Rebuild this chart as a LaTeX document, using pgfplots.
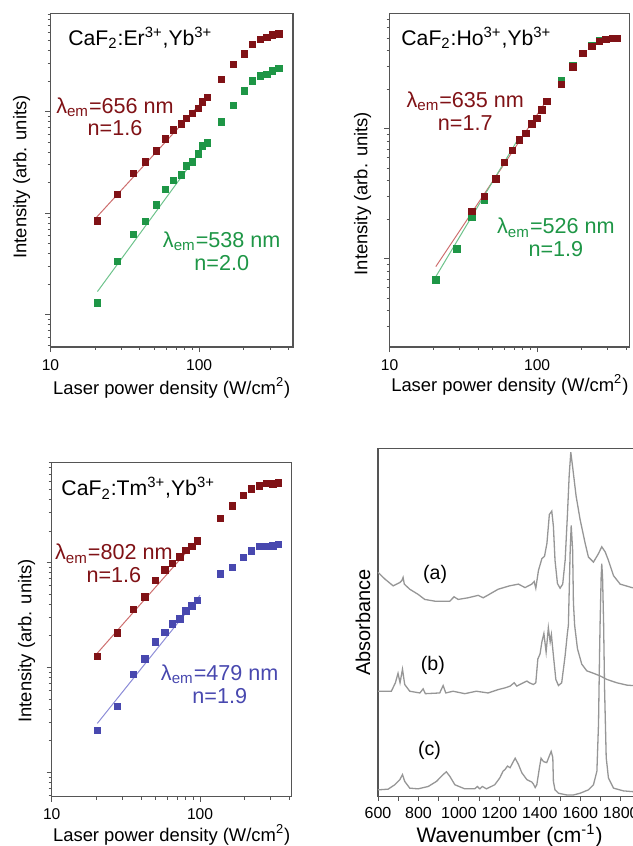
\documentclass[border=0pt]{standalone}
\usepackage{fontspec}
\setmainfont{Liberation Sans}
\usepackage{pgfplots}
\pgfplotsset{compat=1.18}

\definecolor{dred}{RGB}{128,18,22}
\definecolor{dgreen}{RGB}{30,150,70}
\definecolor{dblue}{RGB}{72,72,175}
\definecolor{lred}{RGB}{205,110,110}
\definecolor{lgreen}{RGB}{110,195,140}
\definecolor{lblue}{RGB}{140,140,215}
\definecolor{axgray}{RGB}{85,85,85}
\definecolor{spec}{RGB}{150,150,150}

\newcommand{\ttl}{\fontsize{10.6}{12}\selectfont}
\newcommand{\lam}{\fontsize{10.8}{11.4}\selectfont}
\newcommand{\lbl}{\fontsize{9.2}{11}\selectfont}
\newcommand{\tkl}{\fontsize{7.8}{9}\selectfont}
\newcommand{\lem}{λ\textsubscript{em}}

\begin{document}
\begin{tikzpicture}
\path[use as bounding box] (0,0) rectangle (316pt,423pt);

% ---- Er ----
\begin{axis}[at={(25.25pt,249.5pt)}, anchor=south west, scale only axis,
  width=121.25pt, height=166.75pt,
  xmode=log, ymode=log,
  xmin=10, xmax=428, ymin=0.484, ymax=925,
  axis line style={axgray, line width=0.6pt},
  tick style={axgray, line width=0.5pt},
  tick pos=left, tick align=outside,
  major tick length=2.6pt, minor tick length=1.5pt,
  xtick={10,100}, xticklabels={10,100},
  minor xtick={20,30,40,50,60,70,80,90,200,300,400},
  yticklabels={},
  xticklabel style={font=\tkl},
  xlabel={Laser power density (W/cm\textsuperscript{2})},
  ylabel={Intensity (arb. units)},
  xlabel style={font=\lbl, at={(axis description cs:0.5,-0.123)}, anchor=center},
  ylabel style={font=\lbl, at={(axis description cs:-0.119,0.51)}, anchor=center},
  clip=false]
\addplot[lred, line width=0.5pt, no marks] coordinates {(20.4,9.14) (116,147)};
\addplot[lgreen, line width=0.5pt, no marks] coordinates {(20.7,1.70) (115,52.2)};
\addplot[only marks, mark=square*, mark size=1.6pt, dred] coordinates {
(20.7,8.41) (28.2,15.4) (36.1,24.7) (43.5,32.0) (51.4,41.0) (59.4,53.8) (67.2,66.1)
(76.0,75.7) (82.2,85.9) (90.2,96.4) (98.4,108) (105.2,125) (113.2,138) (140.6,208)
(170.2,290) (200.8,372) (228.5,459) (257.2,514) (285.2,538) (311.3,571) (345,581)};
\addplot[only marks, mark=square*, mark size=1.6pt, dgreen] coordinates {
(20.7,1.31) (28.2,3.35) (36.1,6.21) (43.5,8.28) (51.4,12.1) (59.4,17.2) (67.2,21.1)
(76.0,23.8) (82.2,29.2) (90.2,32.2) (98.4,38.4) (105.2,45.9) (113.2,49.5) (140.6,79.1)
(170.2,116) (200.8,160) (228.5,200) (257.2,224) (285.2,234) (311.3,253) (345,265)};
\node[anchor=west, inner sep=0pt, font=\ttl] at (rel axis cs:0.072,0.927)
  {CaF\textsubscript{2}:Er\textsuperscript{3+},Yb\textsuperscript{3+}};
\node[align=center, text=dred, font=\lam] at (rel axis cs:0.266,0.69)
  {\lem=656 nm\\n=1.6};
\node[align=center, text=dgreen, font=\lam] at (rel axis cs:0.706,0.288)
  {\lem=538 nm\\n=2.0};
\end{axis}

% ---- Ho ----
\begin{axis}[at={(194.75pt,249.5pt)}, anchor=south west, scale only axis,
  width=119.9pt, height=166.75pt,
  xmode=log, ymode=log,
  xmin=10, xmax=421, ymin=2.10, ymax=773,
  axis line style={axgray, line width=0.6pt},
  tick style={axgray, line width=0.5pt},
  tick pos=left, tick align=outside,
  major tick length=2.6pt, minor tick length=1.5pt,
  xtick={10,100}, xticklabels={10,100},
  minor xtick={20,30,40,50,60,70,80,90,200,300,400},
  yticklabels={},
  xticklabel style={font=\tkl},
  xlabel={Laser power density (W/cm\textsuperscript{2})},
  ylabel={Intensity (arb. units)},
  xlabel style={font=\lbl, at={(axis description cs:0.502,-0.114)}, anchor=center},
  ylabel style={font=\lbl, at={(axis description cs:-0.112,0.46)}, anchor=center},
  clip=false]
\addplot[lred, line width=0.5pt, no marks] coordinates {(20.6,8.73) (116,166)};
\addplot[lgreen, line width=0.5pt, no marks] coordinates {(20.6,7.31) (75,85)};
\addplot[only marks, mark=square*, mark size=1.6pt, dgreen] coordinates {
(20.6,6.89) (28.6,11.9) (36.1,21.1) (44.0,28.4) (52.5,41.2) (60.1,55.4) (68.1,68.1)
(75.5,82.2) (83.9,92.6) (92.1,109) (99.6,121) (107.7,140) (116.4,162) (145.6,234)
(174.6,307) (203.9,382) (234.6,437) (264.1,478) (293,490) (325.5,499) (350,499)};
\addplot[only marks, mark=square*, mark size=1.6pt, dred] coordinates {
(36.1,23.1) (44.0,30.1) (52.5,41.2) (60.1,55.4) (68.1,68.1)
(75.5,82.2) (83.9,92.6) (92.1,109) (99.6,121) (107.7,140) (116.4,162) (145.6,221)
(174.6,301) (203.9,382) (234.6,430) (264.1,470) (293,490) (325.5,495) (350,495)};
\node[anchor=west, inner sep=0pt, font=\ttl] at (rel axis cs:0.048,0.927)
  {CaF\textsubscript{2}:Ho\textsuperscript{3+},Yb\textsuperscript{3+}};
\node[align=center, text=dred, font=\lam] at (rel axis cs:0.316,0.708)
  {\lem=635 nm\\n=1.7};
\node[align=center, text=dgreen, font=\lam] at (rel axis cs:0.694,0.328)
  {\lem=526 nm\\n=1.9};
\end{axis}

% ---- Tm ----
\begin{axis}[at={(25.85pt,24.65pt)}, anchor=south west, scale only axis,
  width=120pt, height=167.2pt,
  xmode=log, ymode=log,
  xmin=10, xmax=415, ymin=0.586, ymax=906,
  axis line style={axgray, line width=0.6pt},
  tick style={axgray, line width=0.5pt},
  tick pos=left, tick align=outside,
  major tick length=2.6pt, minor tick length=1.5pt,
  xtick={10,100}, xticklabels={10,100},
  minor xtick={20,30,40,50,60,70,80,90,200,300,400},
  yticklabels={},
  xticklabel style={font=\tkl},
  xlabel={Laser power density (W/cm\textsuperscript{2})},
  ylabel={Intensity (arb. units)},
  xlabel style={font=\lbl, at={(axis description cs:0.5,-0.115)}, anchor=center},
  ylabel style={font=\lbl, at={(axis description cs:-0.104,0.466)}, anchor=center},
  clip=false]
\addplot[lred, line width=0.5pt, no marks] coordinates {(20.2,13.6) (98,171)};
\addplot[lblue, line width=0.5pt, no marks] coordinates {(20.3,2.93) (100,49)};
\addplot[only marks, mark=square*, mark size=1.6pt, dred] coordinates {
(20.3,12.8) (27.7,21.3) (35.6,35.6) (42.6,47.0) (50.2,67.8) (58.0,85.1) (65.4,97.8)
(73.3,113) (80.5,131) (87.9,143) (96.0,161) (137.8,265) (166,347) (196,436)
(223,504) (251,539) (279,571) (309,563) (337,575)};
\addplot[only marks, mark=square*, mark size=1.6pt, dblue] coordinates {
(20.3,2.50) (27.7,4.26) (35.6,8.55) (42.6,12.1) (50.2,17.5) (58.0,21.5) (65.4,26.0)
(73.3,29.2) (80.5,34.6) (87.9,38.6) (96.0,43.4) (137.8,78.0) (166,89.6) (196,112)
(223,129) (251,142) (279,143) (309,145) (337,149)};
\node[anchor=west, inner sep=0pt, font=\ttl] at (rel axis cs:0.039,0.922)
  {CaF\textsubscript{2}:Tm\textsuperscript{3+},Yb\textsuperscript{3+}};
\node[align=center, text=dred, font=\lam] at (rel axis cs:0.259,0.697)
  {\lem=802 nm\\n=1.6};
\node[align=center, text=dblue, font=\lam] at (rel axis cs:0.70,0.336)
  {\lem=479 nm\\n=1.9};
\end{axis}

% ---- IR spectra ----
\begin{axis}[at={(189pt,24.65pt)}, anchor=south west, scale only axis,
  width=131.5pt, height=170.85pt,
  xmin=600, xmax=1900, ymin=0, ymax=341.7,
  ytick=\empty, xtick={600,800,1000,1200,1400,1600,1800},
  xticklabels={600,800,1000,1200,1400,1600,1800},
  minor xtick={700,900,1100,1300,1500,1700,1900},
  tick pos=left, tick align=outside,
  major tick length=2pt, minor tick length=2pt,
  axis line style={axgray, line width=0.6pt},
  tick style={axgray, line width=0.5pt},
  xticklabel style={font=\fontsize{8}{9}\selectfont},
  xlabel={Wavenumber (cm\textsuperscript{-1})},
  ylabel={Absorbance},
  xlabel style={font=\fontsize{10.5}{12}\selectfont, at={(axis description cs:0.5,-0.113)}, anchor=center},
  ylabel style={font=\fontsize{10}{12}\selectfont, at={(axis description cs:-0.057,0.50)}, anchor=center},
  clip=false]
\addplot[spec, line width=0.65pt, no marks] coordinates {
(600,220) (634,213.4) (675,206.7) (708,210) (718,212) (724,215) (730,208.4) (757,203.4)
(798,198.4) (831,193.4) (881,191.7) (930,191.7) (955,191.7) (976,196) (996,193.4)
(1045,195) (1095,197.4) (1120,195) (1144,197.7) (1194,203.4) (1250,206.7) (1294,208.4)
(1327,205) (1360,208.4) (1372,211) (1380,204.4) (1393,221.7) (1410,233.4) (1423,235.7)
(1435,248.4) (1447,276.7) (1459,280) (1467,265) (1475,231.7) (1487,209) (1500,204.4)
(1513,208.4) (1525,231.7) (1536,275) (1545,315) (1553,337.7) (1563,321.7) (1579,295)
(1599,271.7) (1624,248.4) (1640,235) (1665,230) (1690,238.4) (1706,245) (1723,240)
(1739,231.7) (1764,216.7) (1797,208.4) (1855,205) (1900,204)};
\addplot[spec, line width=0.65pt, no marks] coordinates {
(600,103.4) (666,103.4) (686,111.7) (699,121) (709,111.7) (721,125) (732,110) (757,103.4)
(807,101.7) (823,105.7) (834,101) (905,101.7) (922,109) (935,101.7) (971,103.4)
(1029,101) (1086,103.4) (1144,101.7) (1194,105) (1228,106.7) (1253,108.4) (1273,111.7)
(1286,108.4) (1311,111) (1336,113.4) (1348,111.7) (1368,110) (1380,111.7) (1390,135)
(1401,140) (1410,151.7) (1420,160) (1431,141.7) (1442,165.7) (1451,151.7) (1457,159)
(1467,138.4) (1479,115) (1492,109) (1508,111.7) (1525,138.4) (1536,160) (1541,168)
(1550,242) (1555,266) (1562,242) (1566,190) (1572,168) (1586,145) (1607,130)
(1632,123.4) (1665,121) (1698,118.4) (1731,115) (1780,111.7) (1830,109.4) (1856,109)
(1900,108.5)};
\addplot[spec, line width=0.65pt, no marks] coordinates {
(600,6.7) (650,7.4) (683,11.7) (708,16.7) (721,21.7) (732,15) (757,8.4) (798,7.7)
(848,10) (889,15) (922,21.7) (938,24.4) (955,20) (980,11.7) (1029,7.7) (1078,7.7)
(1091,10) (1103,7.7) (1116,10) (1136,7.7) (1177,11.7) (1202,18.4) (1218,25) (1228,26.7)
(1240,30) (1253,28.4) (1266,33.4) (1278,37.7) (1294,31.7) (1311,23.4) (1336,16.7)
(1360,14.4) (1368,12.4) (1377,9) (1385,11.7) (1398,28.4) (1406,37.7) (1418,34.4)
(1434,33.4) (1447,40) (1456,44.4) (1464,38.4) (1467,15) (1475,6.7) (1492,3.4)
(1533,1.7) (1566,1.7) (1599,3.4) (1640,6.7) (1665,11.7) (1682,25) (1690,71.7)
(1695,138.4) (1698,171.7) (1703,215) (1706,228.4) (1710,215) (1715,171.7) (1720,105)
(1728,38.4) (1739,18.4) (1764,8.4) (1813,5.7) (1856,5) (1900,4.5)};
\node[font=\fontsize{9.8}{11}\selectfont] at (axis cs:882,217.7) {(a)};
\node[font=\fontsize{9.8}{11}\selectfont] at (axis cs:871,128.4) {(b)};
\node[font=\fontsize{9.8}{11}\selectfont] at (axis cs:855,45.7) {(c)};
\end{axis}
\end{tikzpicture}
\end{document}
